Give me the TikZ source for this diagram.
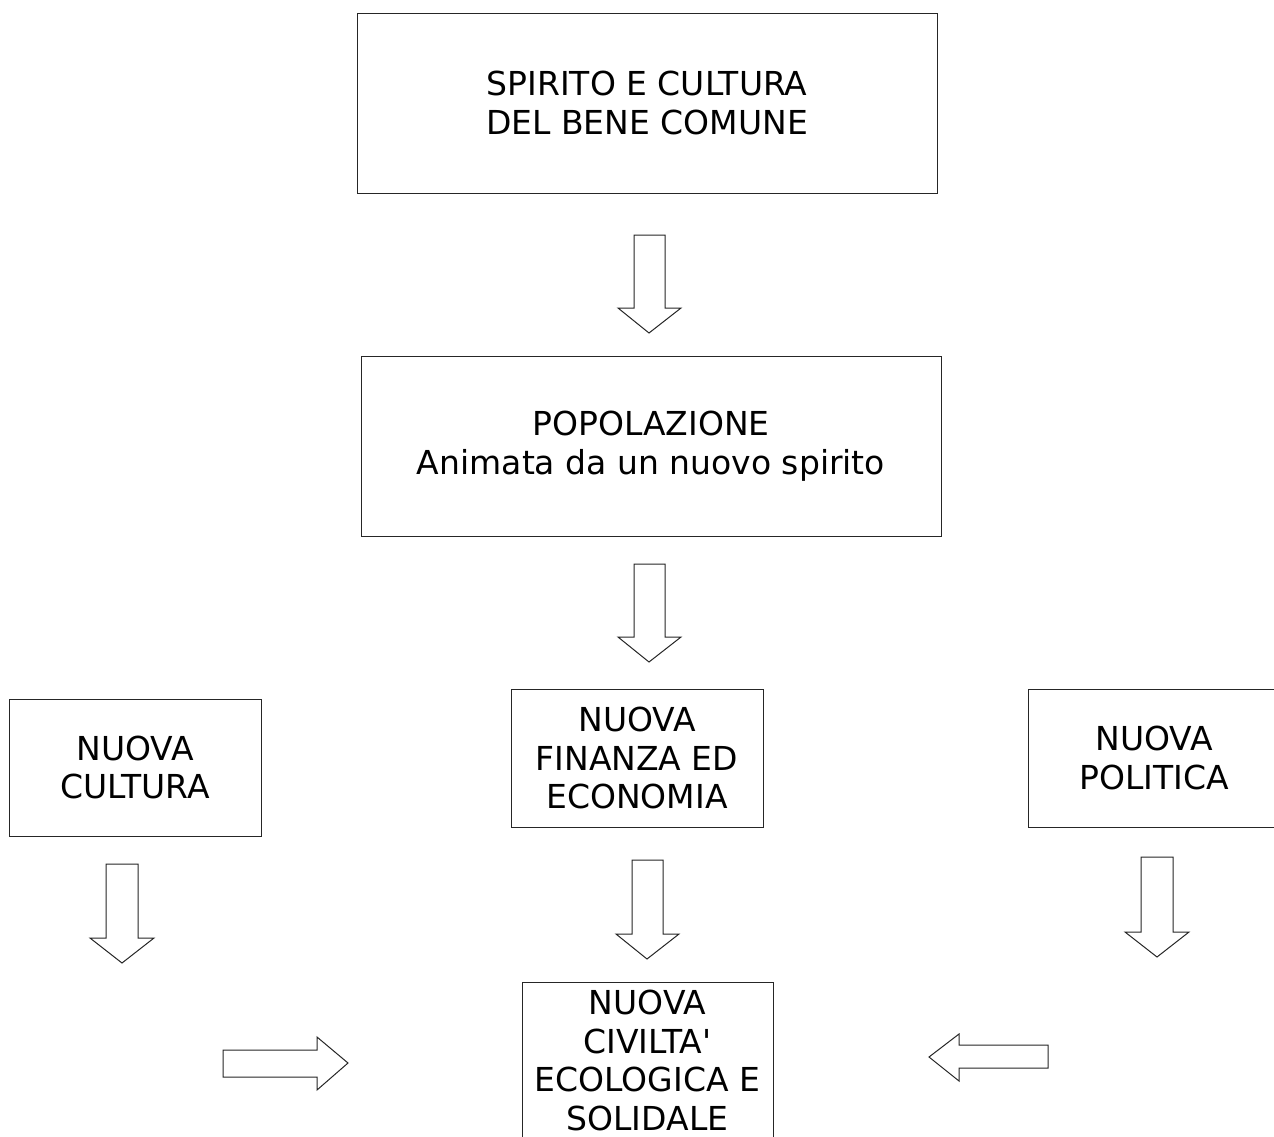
\documentclass[tikz,border=0pt]{standalone}
\usepackage{fontspec}
\setmainfont{DejaVu Sans}
\newfontfamily\plainfont{DejaVu Sans}[Ligatures=ResetAll]
\begin{document}
\begin{tikzpicture}[x=1pt,y=-1pt,
  box/.style={draw=black!85,line width=1pt,inner sep=0pt,align=center,
    font=\fontsize{33}{38.5}\selectfont},
  blockarrow/.style={draw=black!85,line width=1pt,line join=miter,fill=white}]
\useasboundingbox (0,0) rectangle (1274,1136);
% boxes
\node[box,minimum width=580,minimum height=180] (spirito) at (647,103) {SPIRITO E CULTURA\\DEL BENE COMUNE};
\node[box,minimum width=580,minimum height=180] (popolazione) at (651,446) {POPOLAZIONE\\Animata da un nuovo spirito};
\node[box,minimum width=252,minimum height=137] (cultura) at (135,767.5) {NUOVA\\CULTURA};
\node[box,minimum width=252,minimum height=138] (finanza) at (637,758) {NUOVA\\FINANZA ED\\ECONOMIA};
\node[box,minimum width=252,minimum height=138] (politica) at (1154,758) {NUOVA\\POLITICA};
\node[box,minimum width=251,minimum height=156] (civilta) at (647.5,1060.5) {NUOVA\\{\plainfont CIVILTA'}\\ECOLOGICA E\\SOLIDALE};
% block arrows (down)
\draw[blockarrow] (634,235) -- (665,235) -- (665,308) -- (681,308) -- (649,333) -- (618,308) -- (634,308) -- cycle;
\draw[blockarrow] (634,564) -- (665,564) -- (665,637) -- (681,637) -- (649,662) -- (618,637) -- (634,637) -- cycle;
\draw[blockarrow] (106,864) -- (138,864) -- (138,938) -- (154,938) -- (122,963) -- (90,938) -- (106,938) -- cycle;
\draw[blockarrow] (632,860) -- (663,860) -- (663,934) -- (679,934) -- (647,959) -- (616,934) -- (632,934) -- cycle;
\draw[blockarrow] (1141,857) -- (1173,857) -- (1173,932) -- (1189,932) -- (1157,957) -- (1125,932) -- (1141,932) -- cycle;
% block arrow right
\draw[blockarrow] (223,1050) -- (317,1050) -- (317,1037) -- (348,1063) -- (317,1090) -- (317,1077) -- (223,1077) -- cycle;
% block arrow left
\draw[blockarrow] (1048,1045) -- (959,1045) -- (959,1034) -- (929,1057) -- (959,1081) -- (959,1068) -- (1048,1068) -- cycle;
\end{tikzpicture}
\end{document}
